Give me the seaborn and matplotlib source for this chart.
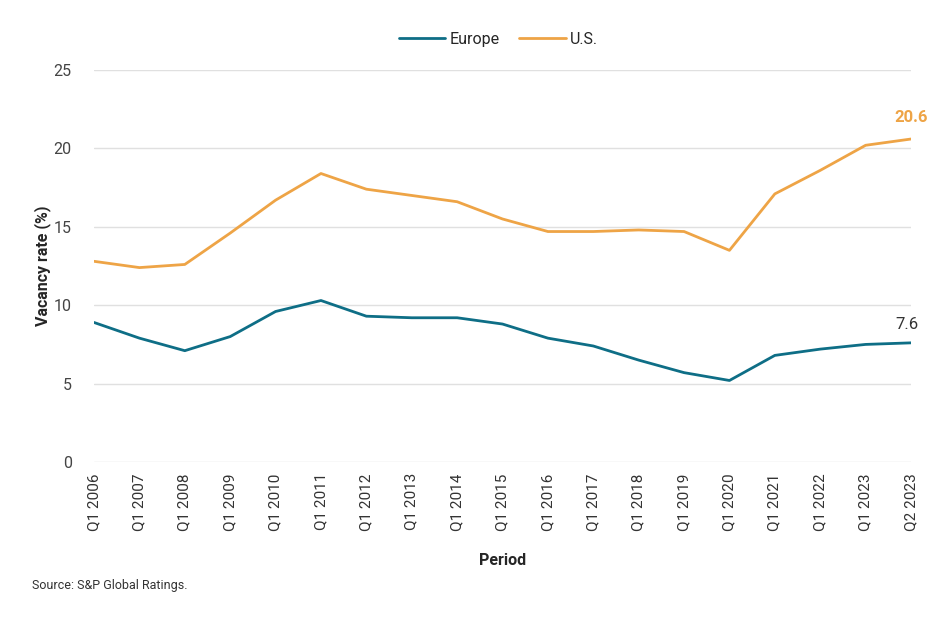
import pandas as pd
import matplotlib
matplotlib.use("Agg")
import matplotlib.pyplot as plt
import seaborn as sns

# Data
periods = ["Q1 2006", "Q1 2007", "Q1 2008", "Q1 2009", "Q1 2010", "Q1 2011",
           "Q1 2012", "Q1 2013", "Q1 2014", "Q1 2015", "Q1 2016", "Q1 2017",
           "Q1 2018", "Q1 2019", "Q1 2020", "Q1 2021", "Q1 2022", "Q1 2023",
           "Q2 2023"]
europe = [8.9, 7.9, 7.1, 8.0, 9.6, 10.3, 9.3, 9.2, 9.2, 8.8, 7.9, 7.4,
          6.5, 5.7, 5.2, 6.8, 7.2, 7.5, 7.6]
us = [12.8, 12.4, 12.6, 14.6, 16.7, 18.4, 17.4, 17.0, 16.6, 15.5, 14.7, 14.7,
      14.8, 14.7, 13.5, 17.1, 18.6, 20.2, 20.6]
yticks = [0, 5, 10, 15, 20, 25]

EUROPE_COLOR = "#0e6e86"
US_COLOR = "#eea446"

df = pd.DataFrame({"Period": periods * 2,
                   "Vacancy": europe + us,
                   "Region": ["Europe"] * len(periods) + ["U.S."] * len(periods)})
df["x"] = list(range(len(periods))) * 2

sns.set_theme(style="white")
plt.rcParams["font.family"] = ["Roboto", "DejaVu Sans"]

fig = plt.figure(figsize=(9.46, 6.23), dpi=100)
ax = fig.add_axes([0.0994, 0.2584, 0.8636, 0.6292])

sns.lineplot(data=df, x="x", y="Vacancy", hue="Region",
             palette={"Europe": EUROPE_COLOR, "U.S.": US_COLOR},
             linewidth=2, ax=ax, legend=False)

ax.set_xlim(0, len(periods) - 1)
ax.set_ylim(0, 25)
ax.set_yticks(yticks)
ax.set_xticks(range(len(periods)))
ax.set_xticklabels(periods, rotation=90, fontsize=11, color="#333333")
ax.tick_params(axis="y", labelsize=11.5, labelcolor="#444444", pad=16, length=0)
ax.tick_params(axis="x", pad=8, length=0)
ax.grid(axis="y", color="#e0e0e0", linewidth=1)
ax.set_axisbelow(True)
for s in ax.spines.values():
    s.set_visible(False)

ax.set_ylabel("Vacancy rate (%)", fontsize=11.5, fontweight="bold", labelpad=2)
ax.set_xlabel("Period", fontsize=11.5, fontweight="bold", labelpad=16)

# end-point labels
last = len(periods) - 1
ax.annotate(f"{us[-1]}", (last, us[-1]), xytext=(0, 10), textcoords="offset points",
            ha="center", va="bottom", color=US_COLOR, fontsize=12, fontweight="bold")
ax.annotate(f"{europe[-1]}", (last, europe[-1]), xytext=(-3, 8), textcoords="offset points",
            ha="center", va="bottom", color="#333333", fontsize=12)

handles = [plt.Line2D([], [], color=EUROPE_COLOR, lw=2),
           plt.Line2D([], [], color=US_COLOR, lw=2)]
fig.legend(handles, ["Europe", "U.S."], loc="center", bbox_to_anchor=(0.527, 0.937),
           ncol=2, frameon=False, fontsize=11.5, handlelength=2.9,
           handletextpad=0.3, columnspacing=1.2)

fig.text(0.034, 0.054, "Source: S&P Global Ratings.", fontsize=9, color="#333333")

fig.savefig("out.png", dpi=100)
